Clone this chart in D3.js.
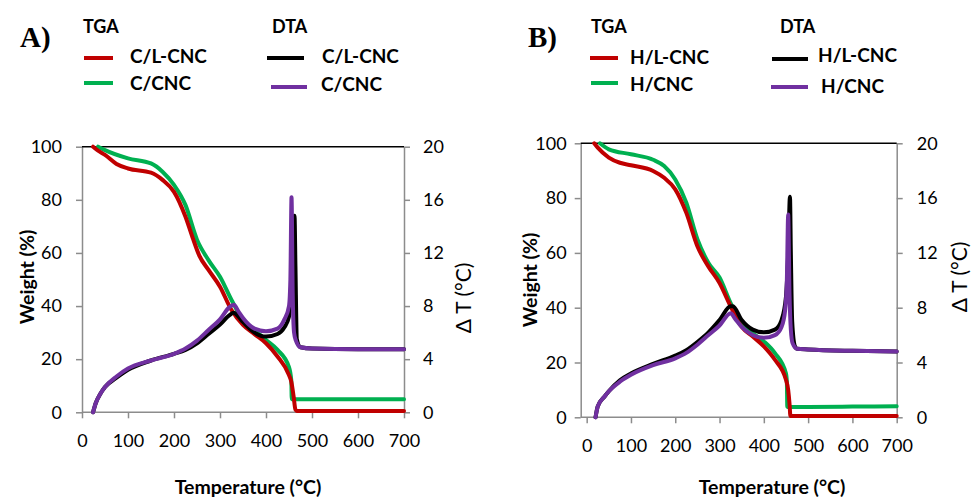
<!DOCTYPE html>
<html>
<head>
<meta charset="utf-8">
<script src="https://cdn.jsdelivr.net/npm/d3@7"></script>
<style>
  body { margin: 0; background: #fff; }
  svg { display: block; font-family: Lato, "Open Sans", sans-serif; }
</style>
</head>
<body>
<svg id="chart" width="972" height="497"></svg>
<script>
// ---- data ----
var xTicks = [0, 100, 200, 300, 400, 500, 600, 700];
var weightTicks = [0, 20, 40, 60, 80, 100];
var dtTicks = [0, 4, 8, 12, 16, 20];

// panel A, TGA
var tgaA_CL_T = [24, 35, 50, 75, 100, 150, 175, 200, 225, 240, 255, 275, 300, 325, 350, 375, 400, 425, 450, 455, 460, 464, 467, 500, 600, 700];
var tgaA_CL_W = [100, 98.5, 96.9, 93.5, 91.8, 90.2, 87.5, 83, 73.6, 66, 59, 53.6, 47.3, 38.5, 32.9, 29.4, 26, 21, 14, 11.5, 6, 1, 0.5, 0.5, 0.5, 0.5];
var tgaA_C_T = [35, 50, 100, 150, 175, 200, 225, 250, 275, 300, 325, 350, 375, 400, 425, 450, 455, 456, 500, 600, 700];
var tgaA_C_W = [100, 98.7, 95.6, 93.7, 90.6, 85.6, 78, 65, 57.3, 51, 42.3, 34.7, 31, 27.2, 23.5, 17, 12, 4.9, 4.9, 4.9, 4.9];
// panel A, DTA
var dtaA_CL_T = [24, 30, 40, 50, 75, 100, 150, 200, 225, 250, 275, 300, 320, 330, 340, 350, 375, 400, 425, 440, 450, 455, 459, 462, 464, 467, 475, 500, 600, 700];
var dtaA_CL_V = [0, 0.7, 1.4, 1.9, 2.6, 3.2, 3.9, 4.4, 4.7, 5.2, 5.9, 6.6, 7.3, 7.5, 7.2, 6.8, 6.0, 5.7, 5.9, 6.4, 7.2, 10, 14.2, 14.8, 11, 5.5, 4.9, 4.8, 4.75, 4.75];
var dtaA_C_T = [24, 30, 40, 50, 75, 100, 150, 200, 225, 250, 275, 300, 320, 330, 340, 350, 375, 400, 425, 440, 450, 453, 455.5, 458, 461, 465, 475, 500, 600, 700];
var dtaA_C_V = [0, 0.7, 1.4, 1.9, 2.7, 3.3, 3.9, 4.4, 4.8, 5.4, 6.2, 7.0, 7.9, 8.1, 7.6, 7.1, 6.3, 6.1, 6.3, 7.0, 8.0, 10, 16.2, 9, 6, 5.4, 4.9, 4.8, 4.75, 4.75];

// panel B, TGA
var tgaB_HL_T = [17, 25, 50, 75, 100, 150, 175, 200, 225, 250, 275, 300, 325, 350, 375, 400, 425, 450, 455, 458, 460, 500, 600, 700];
var tgaB_HL_W = [100, 98.4, 94.8, 92.9, 92, 89.9, 87.4, 83.2, 74.6, 62.4, 55, 49, 40.5, 33, 29.5, 25.9, 21, 13.7, 10, 5, 0.5, 0.5, 0.5, 0.5];
var tgaB_H_T = [30, 50, 100, 150, 175, 200, 225, 250, 275, 300, 325, 350, 375, 400, 425, 450, 452, 453, 500, 600, 700];
var tgaB_H_W = [100, 97.8, 96, 94, 91.7, 86.8, 78.3, 65, 56.3, 51, 41.7, 34.4, 30.7, 27.7, 23.4, 16, 13, 3.8, 3.8, 3.9, 4.0];
// panel B, DTA
var dtaB_HL_T = [20, 25, 40, 50, 75, 100, 150, 200, 225, 250, 275, 300, 325, 330, 350, 375, 400, 425, 440, 450, 455, 459, 461, 464, 470, 475, 500, 600, 700];
var dtaB_HL_V = [0, 0.8, 1.5, 1.9, 2.7, 3.2, 3.9, 4.5, 4.9, 5.5, 6.2, 7.1, 8.1, 8.1, 7.1, 6.4, 6.2, 6.4, 7.1, 8.8, 12, 16.1, 12, 7, 5.2, 5.0, 4.95, 4.85, 4.8];
var dtaB_H_T = [20, 25, 40, 50, 75, 100, 150, 200, 225, 250, 275, 300, 325, 335, 350, 375, 400, 425, 440, 448, 452, 455, 458, 461, 465, 475, 500, 600, 700];
var dtaB_H_V = [0, 0.8, 1.5, 1.9, 2.6, 3.1, 3.8, 4.3, 4.7, 5.3, 6.0, 6.7, 7.6, 7.2, 6.6, 6.0, 5.8, 6.0, 6.6, 7.8, 10, 14.8, 9, 6.4, 5.4, 5.0, 4.95, 4.85, 4.8];

var RED = "#c00000", GREEN = "#00b050", BLACK = "#000000", PURPLE = "#7030a0";
var AXIS = "#8c8c8c";

var svg = d3.select("#chart");

function zip(t, v) { return t.map(function (d, i) { return [d, v[i]]; }); }

function drawPanel(p) {
  var x = d3.scaleLinear().domain(p.xDomain).range([p.left, p.right]);
  var y = d3.scaleLinear().domain([0, 100]).range([p.bottom, p.top]);
  var y2 = d3.scaleLinear().domain([0, 20]).range([p.bottom, p.top]);

  var g = svg.append("g");

  // axes
  var ax = g.append("g").attr("transform", "translate(0," + p.bottom + ")")
    .call(d3.axisBottom(x).tickValues(xTicks).tickSize(6).tickPadding(16).tickSizeOuter(0));
  var ay = g.append("g").attr("transform", "translate(" + p.left + ",0)")
    .call(d3.axisLeft(y).tickValues(weightTicks).tickSize(6).tickPadding(p.yPad).tickSizeOuter(0));
  var ay2 = g.append("g").attr("transform", "translate(" + p.right + ",0)")
    .call(d3.axisRight(y2).tickValues(dtTicks).tickSize(6).tickPadding(p.y2Pad).tickSizeOuter(0));
  [ax, ay, ay2].forEach(function (a) {
    a.selectAll("path, line").attr("stroke", AXIS).attr("stroke-width", 1.5);
    a.selectAll("text").attr("fill", "#000").style("font-size", "18px")
      .style("font-family", "Lato, sans-serif");
  });
  ax.select(".domain").attr("d", "M" + p.left + ",0H" + p.right);

  // top border
  g.append("line").attr("x1", p.left).attr("x2", p.right)
    .attr("y1", p.top).attr("y2", p.top)
    .attr("stroke", "#000").attr("stroke-width", 1.5);

  var lineW = d3.line().x(function (d) { return x(d[0]); }).y(function (d) { return y(d[1]); })
    .curve(d3.curveMonotoneX);
  var lineT = d3.line().x(function (d) { return x(d[0]); }).y(function (d) { return y2(d[1]); })
    .curve(d3.curveMonotoneX);

  function path(gen, data, color) {
    g.append("path").datum(data).attr("d", gen).attr("fill", "none")
      .attr("stroke", color).attr("stroke-width", 4)
      .attr("stroke-linejoin", "round").attr("stroke-linecap", "round");
  }
  path(lineW, p.tga[1].data, GREEN);
  path(lineW, p.tga[0].data, RED);
  path(lineT, p.dta[0].data, BLACK);
  path(lineT, p.dta[1].data, PURPLE);

  // axis titles
  g.append("text").attr("x", p.xTitle[0]).attr("y", p.xTitle[1])
    .attr("text-anchor", "middle").style("font-size", "19.5px").style("font-weight", "bold")
    .text("Temperature (°C)");
  g.append("text").attr("transform", "translate(" + p.yTitle[0] + "," + p.yTitle[1] + ") rotate(-90)")
    .attr("text-anchor", "middle").style("font-size", "19.5px").style("font-weight", "bold")
    .text("Weight (%)");
  g.append("text").attr("transform", "translate(" + p.y2Title[0] + "," + p.y2Title[1] + ") rotate(-90)")
    .attr("text-anchor", "middle").style("font-size", "21px")
    .text("Δ T (°C)");

  // panel letter
  g.append("text").attr("x", p.letter[0]).attr("y", p.letter[1])
    .style("font-family", "'Liberation Serif', serif").style("font-size", "29px")
    .style("font-weight", "bold").text(p.name);

  // legends
  var L = p.legend;
  g.append("text").attr("x", L.tgaX).attr("y", 33).style("font-size", "18px")
    .style("font-weight", "bold").text("TGA");
  g.append("text").attr("x", L.dtaX).attr("y", 33).style("font-size", "18px")
    .style("font-weight", "bold").text("DTA");
  p.tga.concat(p.dta).forEach(function (s) {
    g.append("line").attr("x1", s.lx[0]).attr("x2", s.lx[1]).attr("y1", s.ly).attr("y2", s.ly)
      .attr("stroke", s.color).attr("stroke-width", 4);
    g.append("text").attr("x", s.tx).attr("y", s.ty).style("font-size", "19px")
      .style("font-weight", "bold").text(s.label);
  });
}

drawPanel({
  name: "A)", letter: [20, 47],
  xDomain: [0, 700], left: 82, right: 404, top: 146.7, bottom: 412.3,
  yPad: 14, y2Pad: 13,
  xTitle: [248, 494], yTitle: [34, 277], y2Title: [471, 298],
  legend: { tgaX: 83, dtaX: 272 },
  tga: [
    { label: "C/L-CNC", color: RED, data: zip(tgaA_CL_T, tgaA_CL_W), lx: [84, 113], ly: 58, tx: 130, ty: 63 },
    { label: "C/CNC", color: GREEN, data: zip(tgaA_C_T, tgaA_C_W), lx: [84, 113], ly: 83, tx: 130, ty: 90 }
  ],
  dta: [
    { label: "C/L-CNC", color: BLACK, data: zip(dtaA_CL_T, dtaA_CL_V), lx: [267, 304], ly: 58, tx: 322, ty: 63 },
    { label: "C/CNC", color: PURPLE, data: zip(dtaA_C_T, dtaA_C_V), lx: [271, 307], ly: 87, tx: 321, ty: 91 }
  ]
});

drawPanel({
  name: "B)", letter: [528, 47],
  xDomain: [-13.5, 700], left: 580.7, right: 896.7, top: 143.3, bottom: 417.3,
  yPad: 8, y2Pad: 14,
  xTitle: [772, 494], yTitle: [537, 280], y2Title: [967, 277],
  legend: { tgaX: 591, dtaX: 780 },
  tga: [
    { label: "H/L-CNC", color: RED, data: zip(tgaB_HL_T, tgaB_HL_W), lx: [590, 618], ly: 58, tx: 630, ty: 64 },
    { label: "H/CNC", color: GREEN, data: zip(tgaB_H_T, tgaB_H_W), lx: [591, 618], ly: 83, tx: 630, ty: 91 }
  ],
  dta: [
    { label: "H/L-CNC", color: BLACK, data: zip(dtaB_HL_T, dtaB_HL_V), lx: [772, 808], ly: 59, tx: 818, ty: 62 },
    { label: "H/CNC", color: PURPLE, data: zip(dtaB_H_T, dtaB_H_V), lx: [771, 808], ly: 87, tx: 821, ty: 93 }
  ]
});
</script>
</body>
</html>
